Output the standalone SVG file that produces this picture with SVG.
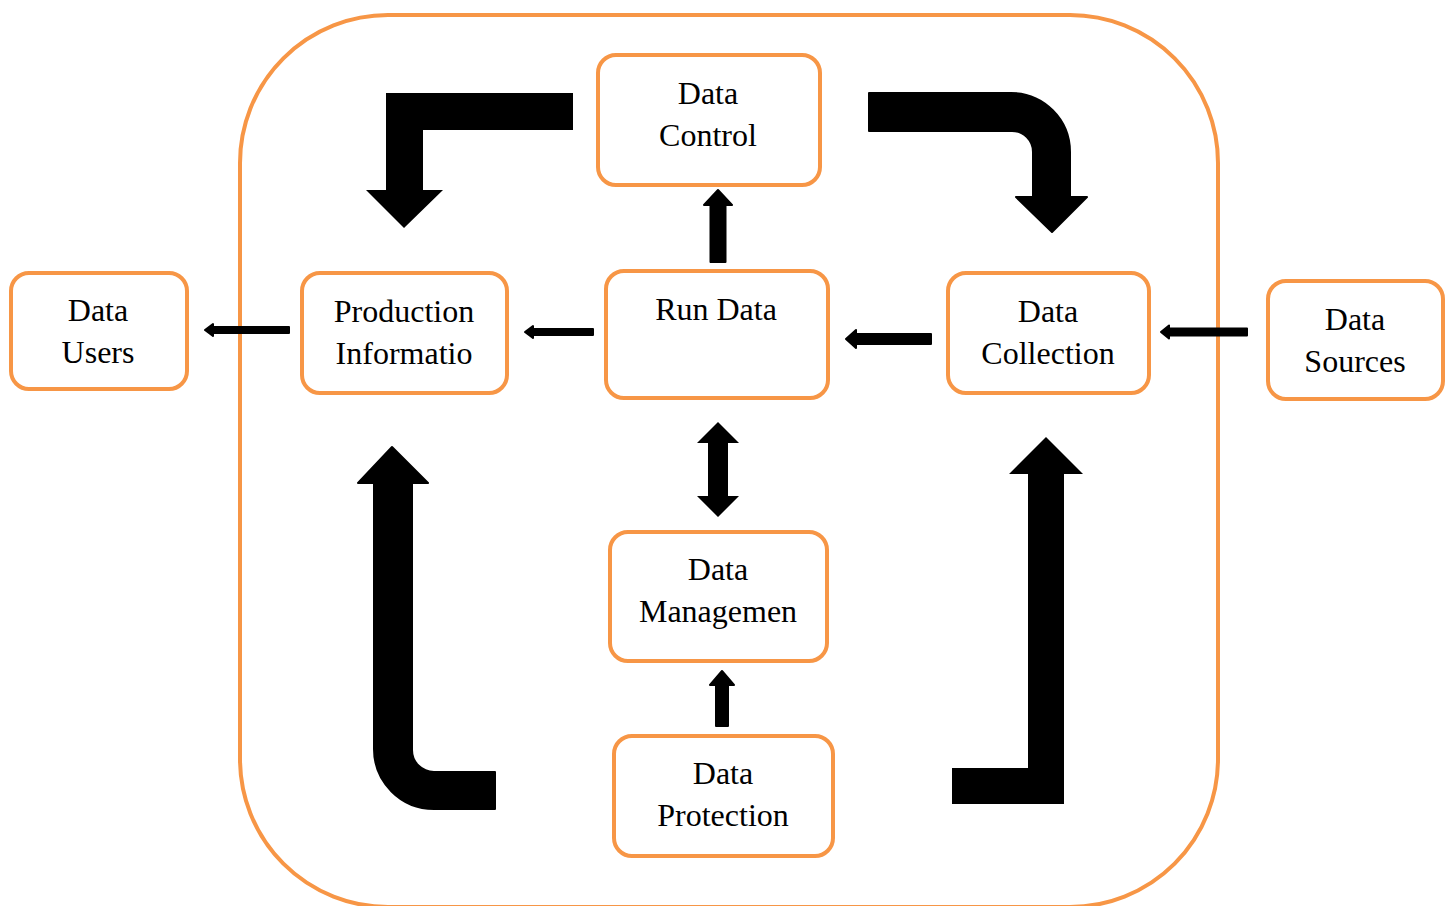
<svg xmlns="http://www.w3.org/2000/svg" width="1451" height="906" viewBox="0 0 1451 906">
  <style>
    .box { fill: #ffffff; stroke: #F79646; stroke-width: 4; }
    .frame { fill: none; stroke: #F79646; stroke-width: 4; }
    .lbl { font-family: "Liberation Serif", "Times New Roman", serif; font-size: 32px; fill: #000000; text-anchor: middle; }
    .big { fill: #000000; }
    .small { fill: #000000; stroke: #000000; stroke-width: 2; stroke-linejoin: round; }
  </style>

  <rect width="1451" height="906" fill="#ffffff"/>

  <!-- outer system boundary -->
  <rect class="frame" x="240" y="15" width="978" height="892" rx="148" ry="148"/>

  <g id="connectors">
    <!-- large flow arrows around the cycle -->
    <path class="big" d="M573,93 L573,130 L423,130 L423,190 L443,190 L404,228 L366,190 L386,190 L386,93 Z"/>
    <path class="big" stroke="#000" stroke-width="2" stroke-linejoin="round" d="M869,93 L1011,93 A59,59 0 0 1 1070,152 L1070,197 L1087,197 L1052,232 L1016,197 L1033,197 L1033,152 A21,21 0 0 0 1012,131 L869,131 Z"/>
    <path class="big" stroke="#000" stroke-width="2" stroke-linejoin="round" d="M392,447 L428,483 L412,483 L412,750 A22,22 0 0 0 434,772 L495,772 L495,809 L434,809 A60,60 0 0 1 374,749 L374,483 L358,483 Z"/>
    <path class="big" d="M1046,437 L1083,474 L1064,474 L1064,804 L952,804 L952,768 L1028,768 L1028,474 L1009,474 Z"/>

    <!-- short arrows between nodes -->
    <path class="small" d="M205,330 L213,324 L213,327 L289,327 L289,333 L213,333 L213,336 Z"/>
    <path class="small" d="M525,332 L533,326 L533,329 L593,329 L593,335 L533,335 L533,338 Z"/>
    <path class="small" d="M846,339 L856,330 L856,334 L931,334 L931,344 L856,344 L856,348 Z"/>
    <path class="small" d="M1161,332 L1169,325.5 L1169,328.5 L1247,328.5 L1247,335.5 L1169,335.5 L1169,338.5 Z"/>
    <path class="small" d="M718,190 L732,205 L725.5,205 L725.5,262 L710.5,262 L710.5,205 L704,205 Z"/>
    <path class="small" d="M722,671 L734,685 L728,685 L728,726 L716,726 L716,685 L710,685 Z"/>
    <path class="big" d="M718,422 L739,443 L728,443 L728,496 L739,496 L718,517 L697,496 L708,496 L708,443 L697,443 Z"/>
  </g>

  <g id="data-control">
    <rect class="box" x="598" y="55" width="222" height="130" rx="18" ry="18"/>
    <text class="lbl" x="708" y="104">Data</text>
    <text class="lbl" x="708" y="146">Control</text>
  </g>

  <g id="data-users">
    <rect class="box" x="11" y="273" width="176" height="116" rx="18" ry="18"/>
    <text class="lbl" x="98" y="321">Data</text>
    <text class="lbl" x="98" y="363">Users</text>
  </g>

  <g id="production-information">
    <rect class="box" x="302" y="273" width="205" height="120" rx="18" ry="18"/>
    <text class="lbl" x="404" y="322">Production</text>
    <text class="lbl" x="404" y="364">Informatio</text>
  </g>

  <g id="run-data">
    <rect class="box" x="606" y="271" width="222" height="127" rx="18" ry="18"/>
    <text class="lbl" x="716" y="320">Run Data</text>
  </g>

  <g id="data-collection">
    <rect class="box" x="948" y="273" width="201" height="120" rx="18" ry="18"/>
    <text class="lbl" x="1048" y="322">Data</text>
    <text class="lbl" x="1048" y="364">Collection</text>
  </g>

  <g id="data-sources">
    <rect class="box" x="1268" y="281" width="175" height="118" rx="18" ry="18"/>
    <text class="lbl" x="1355" y="330">Data</text>
    <text class="lbl" x="1355" y="372">Sources</text>
  </g>

  <g id="data-management">
    <rect class="box" x="610" y="532" width="217" height="129" rx="18" ry="18"/>
    <text class="lbl" x="718" y="580">Data</text>
    <text class="lbl" x="718" y="622">Managemen</text>
  </g>

  <g id="data-protection">
    <rect class="box" x="614" y="736" width="219" height="120" rx="18" ry="18"/>
    <text class="lbl" x="723" y="784">Data</text>
    <text class="lbl" x="723" y="826">Protection</text>
  </g>
</svg>
